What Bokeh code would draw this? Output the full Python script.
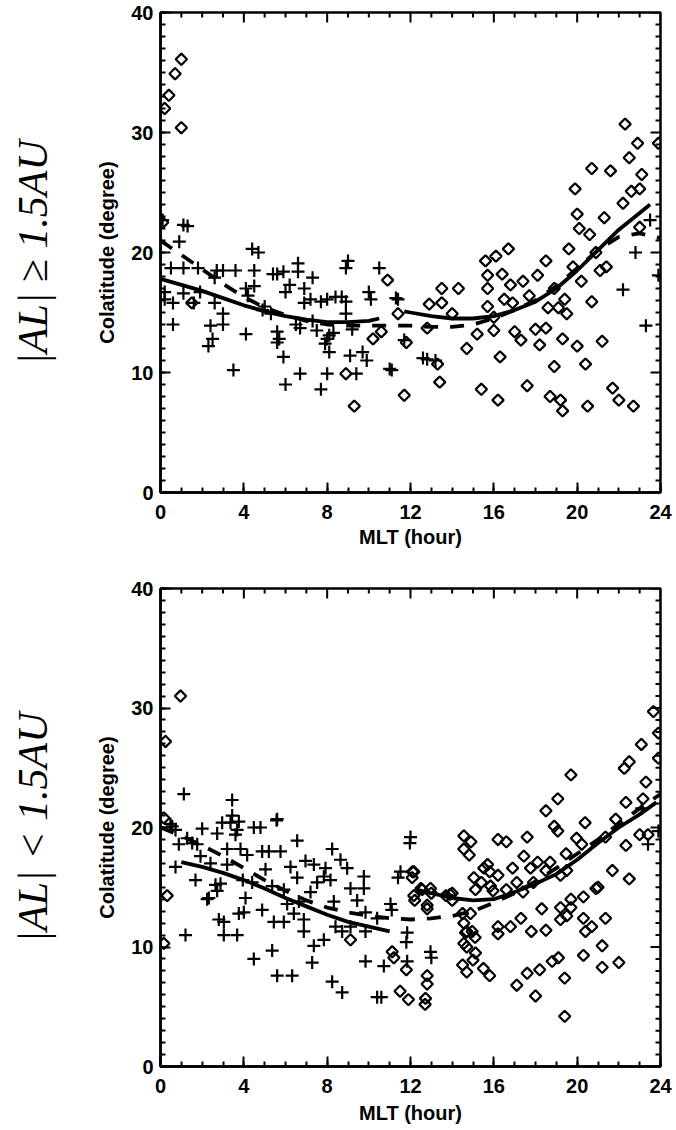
import numpy as np
from bokeh.plotting import figure
from bokeh.models import Range1d, LinearAxis, SingleIntervalTicker, FixedTicker
from bokeh.layouts import column
from bokeh.embed import file_html
from bokeh.resources import INLINE

# ---------------- data: top panel (|AL| >= 1.5AU) ----------------
top_plus_x = [0.1, 1.1, 1.3, 0.9, 0.5, 1.1, 1.8, 0.2, 0.2, 0.6, 0.6, 1.1, 1.6, 1.9, 2.4, 2.3, 2.5, 2.6, 2.6,
              2.7, 3.0, 3.0, 3.0, 3.6, 3.5, 4.1, 4.1, 4.4, 4.7, 4.5, 4.5, 4.2, 4.9, 5.4, 5.6, 5.3, 5.6, 5.6,
              5.7, 5.9, 6.0, 5.9, 6.0, 6.6, 6.6, 6.2, 6.7, 6.9, 6.9, 6.7, 7.3, 7.2, 7.3, 7.7, 7.7, 8.0, 8.1,
              8.0, 8.0, 8.1, 8.4, 8.7, 8.9, 8.9, 9.0, 8.9, 9.1, 9.4, 9.7, 9.9, 10.0, 10.1, 10.5, 11.1, 11.4,
              11.7, 12.8, 13.2, 11.3, 11.0, 12.6, 22.2, 22.8, 23.3, 23.5, 23.9, 7.5, 8.3, 7.9, 6.5, 5.0, 9.2]
top_plus_y = [22.7, 22.3, 22.2, 20.9, 18.7, 18.7, 18.7, 16.7, 16.1, 15.8, 14.0, 16.6, 15.8, 16.7, 13.9, 12.2,
              12.8, 15.8, 17.9, 18.5, 18.5, 14.9, 14.0, 18.5, 10.2, 17.0, 13.2, 20.3, 20.0, 18.5, 17.2, 16.4,
              15.2, 18.2, 18.2, 14.9, 12.5, 13.4, 12.8, 11.3, 9.0, 18.4, 16.7, 18.4, 19.1, 17.3, 9.9, 17.0,
              15.8, 13.7, 17.9, 16.1, 14.3, 8.6, 15.9, 16.1, 13.1, 12.8, 9.9, 11.7, 16.3, 16.3, 14.9, 15.9,
              19.3, 18.7, 11.4, 9.9, 11.7, 11.0, 16.7, 16.1, 18.7, 10.2, 16.1, 12.7, 11.1, 11.0, 16.2, 10.3,
              11.2, 16.9, 20.0, 13.9, 22.7, 18.1, 13.5, 13.3, 12.4, 14.0, 15.5, 13.6]

top_dia_x = [0.1, 0.2, 0.4, 0.7, 1.0, 1.0, 1.5, 8.9, 9.3, 10.2, 10.6, 10.9, 11.4, 11.7, 11.8, 12.8, 12.9,
             13.3, 13.4, 13.5, 13.5, 14.0, 14.3, 14.7, 15.2, 15.4, 15.6, 15.7, 15.7, 15.7, 16.0, 16.0, 16.1,
             16.2, 16.4, 16.3, 16.5, 16.7, 16.8, 16.9, 17.0, 17.3, 17.4, 17.6, 17.7, 18.1, 18.0, 18.2, 18.5,
             18.5, 18.6, 18.7, 18.9, 18.9, 19.1, 19.2, 19.3, 19.3, 19.4, 19.5, 19.6, 19.8, 19.9, 20.0, 20.0,
             20.1, 20.2, 20.4, 20.5, 20.6, 20.7, 20.7, 20.9, 21.1, 21.2, 21.3, 21.4, 21.6, 21.7, 22.0, 22.2,
             22.3, 22.5, 22.6, 22.7, 22.9, 23.1, 23.0, 23.0, 23.9]
top_dia_y = [22.5, 32.0, 33.1, 34.9, 36.1, 30.4, 15.8, 9.9, 7.2, 12.8, 13.4, 17.7, 14.9, 8.1, 12.5, 13.7,
             15.7, 10.7, 9.2, 17.0, 15.8, 14.9, 17.0, 12.0, 13.2, 8.6, 19.3, 18.1, 17.0, 15.5, 13.5, 14.6,
             19.7, 7.7, 18.2, 11.3, 16.1, 20.3, 17.3, 15.8, 13.4, 12.7, 17.6, 8.9, 16.4, 18.1, 13.6, 12.3,
             19.3, 13.7, 15.4, 8.0, 17.0, 10.5, 15.4, 7.7, 6.8, 12.8, 16.1, 14.9, 20.3, 18.8, 25.3, 12.2,
             23.2, 22.0, 17.6, 10.7, 7.2, 21.5, 15.9, 27.0, 20.0, 18.5, 12.6, 22.9, 18.8, 26.8, 8.7, 7.7,
             24.1, 30.7, 27.9, 25.1, 7.2, 29.1, 26.5, 25.3, 22.1, 29.1]

top_solid1_x = [0.0, 1.0, 2.0, 3.0, 4.0, 5.0, 6.0, 7.0, 8.0, 9.0, 10.0, 10.5]
top_solid1_y = [17.8, 17.3, 16.8, 16.2, 15.6, 15.1, 14.7, 14.4, 14.2, 14.2, 14.3, 14.5]
top_solid2_x = [11.7, 12.0, 13.0, 14.0, 15.0, 16.0, 17.0, 18.0, 19.0, 20.0, 21.0, 22.0, 23.0, 23.5]
top_solid2_y = [15.1, 15.0, 14.7, 14.5, 14.5, 14.7, 15.2, 15.9, 17.0, 18.5, 20.2, 21.9, 23.3, 24.0]
top_dash_x = [0, 1, 2, 3, 4, 5, 6, 7, 8, 9, 10, 11, 12, 13, 14, 15, 16, 17, 18, 19, 20, 21, 22, 23, 24]
top_dash_y = [21.0, 19.8, 18.6, 17.4, 16.3, 15.4, 14.8, 14.3, 14.0, 13.9, 13.9, 13.9, 13.9, 13.8, 13.8,
              14.0, 14.5, 15.2, 16.0, 17.2, 18.7, 20.2, 21.3, 21.6, 21.2]

# ---------------- data: bottom panel (|AL| < 1.5AU) ----------------
bot_plus_x = [1.12, 3.44, 3.44, 0.48, 0.72, 2.0, 2.72, 2.96, 3.36, 3.76, 3.68, 3.6, 4.48, 4.8, 5.57, 6.56,
              0.88, 1.28, 1.52, 1.76, 3.2, 3.84, 4.16, 4.88, 5.2, 5.76, 8.24, 8.64, 6.96, 7.36, 7.92, 8.96,
              6.24, 6.56, 1.68, 2.4, 3.2, 0.72, 5.04, 3.95, 4.4, 5.36, 5.92, 6.08, 6.64, 7.2, 7.52, 7.84,
              8.16, 9.12, 9.76, 9.76, 8.32, 9.44, 9.84, 9.84, 2.32, 2.72, 2.88, 4.08, 3.76, 3.04, 3.04, 3.68,
              1.2, 4.88, 5.44, 5.92, 6.4, 6.88, 6.88, 7.36, 7.84, 8.4, 8.72, 9.12, 4.48, 5.36, 5.6, 6.32,
              7.28, 8.24, 8.72, 9.84, 10.4, 10.6, 10.72, 11.04, 11.52, 12.0, 11.84, 11.84, 12.96, 10.4,
              0.56, 1.92, 2.64, 2.24, 2.8, 4.0, 5.6, 11.97, 11.4, 11.1, 11.8, 13.0, 23.1, 23.4, 23.9]
bot_plus_y = [22.8, 22.3, 21.0, 20.3, 19.8, 19.9, 19.5, 20.4, 20.4, 20.5, 19.8, 19.4, 20.0, 20.0, 20.6, 18.9,
              18.6, 19.1, 18.7, 18.6, 18.2, 18.2, 17.7, 18.0, 18.0, 18.0, 18.2, 17.3, 17.2, 16.9, 16.6, 16.6,
              16.7, 15.8, 15.6, 17.0, 16.9, 16.7, 16.5, 15.6, 15.4, 15.1, 14.8, 13.6, 13.8, 14.6, 15.4, 15.9,
              15.6, 14.9, 15.9, 14.9, 13.8, 13.9, 12.9, 11.3, 14.1, 14.7, 15.3, 14.1, 12.8, 12.1, 11.0, 11.0,
              11.0, 13.1, 12.1, 12.1, 12.8, 12.3, 11.3, 10.1, 10.6, 11.7, 11.3, 11.7, 9.0, 9.7, 7.6, 7.6,
              8.7, 7.1, 6.2, 8.8, 5.8, 5.8, 8.4, 13.6, 16.3, 19.2, 11.2, 8.8, 9.6, 12.4,
              20.1, 17.6, 15.2, 14.0, 12.3, 12.9, 20.7, 18.7, 15.8, 13.1, 10.4, 9.1, 21.6, 18.6, 19.7]

bot_dia_x = [0.24, 0.96, 0.16, 0.32, 0.16, 9.12, 11.12, 11.5, 11.9, 12.8, 12.72, 12.16, 12.08, 12.16, 12.56,
             12.96, 12.8, 14.0, 13.7, 14.56, 14.56, 14.56, 14.64, 14.56, 14.96, 15.12, 14.5, 15.5, 14.88,
             15.04, 15.12, 15.52, 15.7, 15.84, 16.2, 16.2, 23.66, 23.9, 23.9, 23.08, 22.26, 22.5, 23.3, 23.16,
             22.34, 21.85, 21.36, 22.34, 23.0, 23.4, 21.69, 22.5, 21.36, 21.2, 22.0, 21.2, 19.7, 19.07, 18.5,
             18.9, 19.07, 20.38, 19.97, 20.22, 19.47, 17.6, 16.6, 14.9, 14.82, 17.44, 17.76, 18.1, 18.5, 18.7,
             15.8, 16.2, 15.4, 15.96, 16.6, 17.1, 17.4, 17.9, 16.9, 12.2, 13.0, 14.0, 14.5, 14.7, 15.1, 14.7,
             15.0, 14.7, 15.8, 16.2, 16.8, 17.3, 17.8, 18.5, 19.2, 19.5, 19.7, 20.3, 19.2, 18.3, 20.4, 20.7,
             20.9, 21.0, 20.3, 19.7, 19.2, 19.5, 17.1, 17.6, 18.2, 18.8, 19.1, 19.4, 18.0, 19.4, 20.3, 11.2,
             11.8, 12.7, 12.8, 12.1, 12.5, 12.8, 13.9]
bot_dia_y = [27.2, 31.0, 20.8, 14.3, 10.3, 10.6, 9.6, 6.3, 5.6, 7.6, 5.7, 16.3, 15.8, 14.3, 14.8,
             14.9, 13.5, 14.5, 14.3, 19.3, 18.2, 12.0, 11.2, 10.3, 11.3, 9.5, 8.5, 8.2, 12.8,
             15.8, 14.8, 16.6, 16.9, 15.1, 19.0, 11.7, 29.7, 27.9, 25.8, 26.95, 24.95, 25.5, 23.8, 22.4,
             22.1, 20.7, 19.2, 18.5, 19.4, 19.4, 16.4, 15.7, 12.4, 10.1, 8.7, 8.3, 24.4, 22.4, 21.4,
             20.1, 19.7, 20.4, 19.1, 18.6, 17.8, 19.2, 18.8, 18.8, 17.7, 17.6, 16.6, 17.1, 16.4, 17.1,
             16.3, 16.0, 15.4, 14.7, 14.8, 15.4, 14.6, 15.4, 16.6, 13.9, 14.5, 13.9, 12.8, 11.3, 10.8, 10.0,
             8.9, 7.9, 7.6, 11.1, 11.7, 12.4, 11.3, 11.4, 13.3, 12.6, 13.3, 12.4, 12.3, 13.2, 11.3, 11.7,
             14.9, 15.0, 14.2, 14.0, 16.0, 16.4, 6.8, 7.8, 8.1, 8.8, 9.1, 7.4, 5.9, 4.2, 9.3, 9.1,
             8.1, 5.2, 6.9, 16.3, 14.9, 13.2, 14.4]

bot_solid1_x = [1.0, 2.0, 3.0, 4.0, 5.0, 6.0, 7.0, 8.0, 9.0, 10.0, 11.0]
bot_solid1_y = [17.1, 16.7, 16.2, 15.6, 14.9, 14.1, 13.4, 12.7, 12.1, 11.7, 11.3]
bot_solid2_x = [12.3, 13.0, 14.0, 15.0, 16.0, 17.0, 18.0, 19.0, 20.0, 21.0, 22.0, 23.0, 23.8]
bot_solid2_y = [14.8, 14.5, 14.1, 13.9, 14.0, 14.6, 15.3, 16.1, 17.3, 18.7, 20.0, 21.1, 22.1]
bot_dash_x = [0, 1, 2, 3, 4, 5, 6, 7, 8, 9, 10, 11, 12, 13, 14, 15, 16, 17, 18, 19, 20, 21, 22, 23, 24]
bot_dash_y = [20.0, 19.3, 18.5, 17.6, 16.6, 15.6, 14.7, 13.9, 13.3, 12.9, 12.6, 12.4, 12.3, 12.4, 12.6,
              13.0, 13.7, 14.5, 15.5, 16.6, 17.8, 19.0, 20.3, 21.6, 22.8]

x_label = "MLT (hour)"
y_label = "Colatitude (degree)"
top_side = "|AL| \u2265 1.5AU"
bot_side = "|AL| < 1.5AU"

FONT = "Liberation Sans"
FW, X0, X1, Y0, Y1 = 500, 0, 24, 0, 40


def style_axis(ax, ticker):
    ax.ticker = ticker
    ax.axis_line_width = 2.5
    ax.axis_line_color = "black"
    ax.major_tick_in = 10
    ax.major_tick_out = 0
    ax.minor_tick_in = 5
    ax.minor_tick_out = 0
    ax.major_tick_line_width = 2
    ax.minor_tick_line_width = 2
    ax.major_tick_line_color = "black"
    ax.minor_tick_line_color = "black"
    ax.major_label_text_font = FONT
    ax.major_label_text_font_style = "bold"
    ax.major_label_text_font_size = "20px"
    ax.major_label_text_color = "black"


def make_panel(px, py, dx, dy, s1x, s1y, s2x, s2y, dax, day, side, top_b, bot_b, fh, xlab_standoff):
    p = figure(frame_width=FW, frame_height=fh, x_range=Range1d(X0, X1), y_range=Range1d(Y0, Y1),
               output_backend="svg", toolbar_location=None,
               min_border_left=160, min_border_right=16, min_border_top=top_b, min_border_bottom=bot_b,
               x_axis_location=None, y_axis_location=None)
    p.grid.visible = False
    p.outline_line_color = "black"
    p.outline_line_width = 2.5
    p.background_fill_color = "white"
    p.border_fill_color = "white"

    xb = LinearAxis(axis_label=x_label)
    style_axis(xb, SingleIntervalTicker(interval=4, num_minor_ticks=4))
    xb.major_label_standoff = 12
    xb.axis_label_standoff = xlab_standoff
    xb.axis_label_text_font = FONT
    xb.axis_label_text_font_style = "bold"
    xb.axis_label_text_font_size = "20px"
    xb.axis_label_text_color = "black"
    p.add_layout(xb, "below")

    yl = LinearAxis(axis_label=y_label)
    style_axis(yl, SingleIntervalTicker(interval=10, num_minor_ticks=10))
    yl.major_label_standoff = 7
    yl.axis_label_standoff = 10
    yl.axis_label_text_font = FONT
    yl.axis_label_text_font_style = "bold"
    yl.axis_label_text_font_size = "20px"
    yl.axis_label_text_color = "black"
    p.add_layout(yl, "left")

    side_ax = LinearAxis(axis_label=side)
    side_ax.ticker = FixedTicker(ticks=[])
    side_ax.axis_line_color = None
    side_ax.major_tick_line_color = None
    side_ax.minor_tick_line_color = None
    side_ax.major_label_standoff = 0
    side_ax.axis_label_standoff = 38
    side_ax.axis_label_text_font = "Liberation Serif"
    side_ax.axis_label_text_font_style = "italic"
    side_ax.axis_label_text_font_size = "42px"
    side_ax.axis_label_text_color = "black"
    p.add_layout(side_ax, "left")

    # mirrored tick marks on the top and right frame edges
    dx_major = 10 * (X1 - X0) / FW
    dy_major = 10 * (Y1 - Y0) / fh
    yt_all = np.arange(Y0, Y1 + 1, 1)
    xt_all = np.arange(X0, X1 + 1, 1)
    rlen = np.where(yt_all % 10 == 0, dx_major, dx_major / 2)
    p.segment(x0=np.full(len(yt_all), X1), y0=yt_all, x1=X1 - rlen, y1=yt_all,
              line_color="black", line_width=2)
    tlen = np.where(xt_all % 4 == 0, dy_major, dy_major / 2)
    p.segment(x0=xt_all, y0=np.full(len(xt_all), Y1), x1=xt_all, y1=Y1 - tlen,
              line_color="black", line_width=2)

    p.scatter(px, py, marker="cross", size=13, line_color="black", line_width=2.2)
    p.scatter(dx, dy, marker="square", size=8, angle=np.pi / 4, fill_color=None,
              line_color="black", line_width=2.2)
    p.line(s1x, s1y, line_color="black", line_width=3.8)
    p.line(s2x, s2y, line_color="black", line_width=3.8)
    p.line(dax, day, line_color="black", line_width=3.8, line_dash="14 12")
    return p


p1 = make_panel(top_plus_x, top_plus_y, top_dia_x, top_dia_y, top_solid1_x, top_solid1_y,
                top_solid2_x, top_solid2_y, top_dash_x, top_dash_y, top_side, 12, 84, 480, 4)
p2 = make_panel(bot_plus_x, bot_plus_y, bot_dia_x, bot_dia_y, bot_solid1_x, bot_solid1_y,
                bot_solid2_x, bot_solid2_y, bot_dash_x, bot_dash_y, bot_side, 12, 64, 478, 6)

layout = column(p1, p2, spacing=0)
open("out.html", "w").write(file_html(layout, INLINE))
